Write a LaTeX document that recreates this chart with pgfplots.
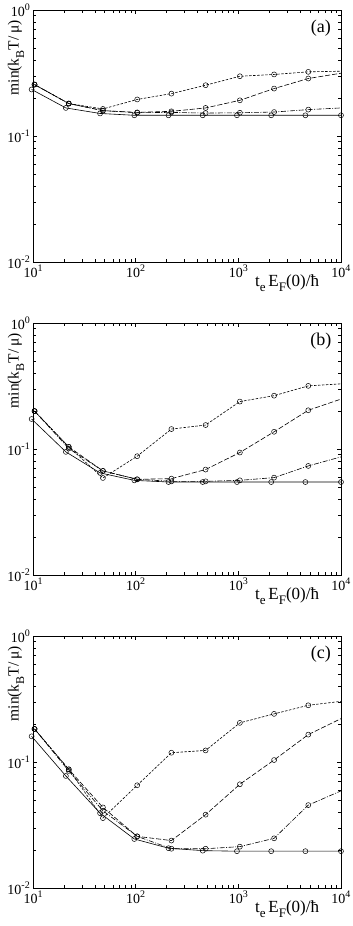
\documentclass[border=0pt]{standalone}
\usepackage{fontspec}
\setmainfont{Liberation Serif}
\usepackage{pgfplots}
\pgfplotsset{compat=1.18}
\newcommand\tlab[1]{10\raisebox{0.42em}{\fontsize{10bp}{10bp}\selectfont #1}}
\newcommand\lsub[1]{\raisebox{-0.35em}{\fontsize{13bp}{13bp}\selectfont #1}}
\newcommand\ysub[1]{\raisebox{-0.35em}{\fontsize{12bp}{12bp}\selectfont #1}}
\newcommand\beginpanel[1]{\begin{axis}[
    xmode=log, ymode=log, scale only axis, width=308bp, height=252bp,
    xmin=10, xmax=10000, ymin=0.01, ymax=1,
    xtick={10,100,1000,10000}, xticklabels={\tlab{1},\tlab{2},\tlab{3},\tlab{4}},
    ytick={0.01,0.1,1}, yticklabels={\tlab{-2},\tlab{-1},\tlab{0}},
    tick align=inside, clip=false,
    axis line style={line width=0.8bp},
    tick style={black, line width=0.6bp},
    ticklabel style={font=\fontsize{14bp}{14bp}\selectfont},
    xticklabel style={anchor=north, inner sep=0pt, yshift=-3bp},
    yticklabel style={anchor=east, inner sep=0pt, xshift=-3bp},
    xlabel={t\lsub{e}\,E\lsub{F}(0)/ħ},
    xlabel style={at={(axis description cs:0.825,0)}, anchor=base, yshift=-24bp, font=\fontsize{17bp}{17bp}\selectfont, inner sep=0pt},
    ylabel={min(k\ysub{B}T/\,μ)},
    ylabel style={at={(axis description cs:-0.028,0.81)}, anchor=south, inner sep=0pt, font=\fontsize{15.5bp}{15.5bp}\selectfont},
    #1]}
\tikzset{
  solline/.style={black, line width=0.6bp, mark=o, mark size=2.5bp, mark options={solid, line width=0.5bp}},
  sdline/.style={black, line width=0.6bp, dash pattern=on 2.5bp off 1.5bp, mark=o, mark size=2.5bp, mark options={solid, line width=0.5bp}},
  ldline/.style={black, line width=0.6bp, dash pattern=on 5bp off 2bp, mark=o, mark size=2.5bp, mark options={solid, line width=0.5bp}},
  ddline/.style={black, line width=0.6bp, dash pattern=on 5bp off 1.5bp on 1bp off 1.5bp, mark=o, mark size=2.5bp, mark options={solid, line width=0.5bp}},
}
\begin{document}
\begin{tikzpicture}
\useasboundingbox (-33bp,-916bp) rectangle (320bp,10bp);
% ---------------- (a)
\beginpanel{at={(0,0)}, anchor=north west}
\addplot[solline] coordinates {(9.7,0.234) (20.9,0.167) (45,0.151) (97,0.146) (209,0.146) (450,0.146) (970,0.146) (2090,0.146) (4500,0.146) (10000,0.146)};
\addplot[sdline, mark indices={1,2,3,4,5,6,7,8,9}] coordinates {(10.35,0.256) (22.3,0.181) (48,0.164) (103.5,0.195) (223,0.217) (480,0.253) (1035,0.298) (2230,0.308) (4800,0.323) (10000,0.327)};
\addplot[ldline, mark indices={1,2,3,4,5,6,7,8,9}] coordinates {(10.35,0.256) (22.3,0.181) (48,0.159) (103.5,0.154) (223,0.157) (480,0.167) (1035,0.192) (2230,0.238) (4800,0.286) (10000,0.315)};
\addplot[ddline, mark indices={1,2,3,4,5,6,7,8,9}] coordinates {(10.35,0.256) (22.3,0.181) (48,0.159) (103.5,0.153) (223,0.154) (480,0.152) (1035,0.153) (2230,0.155) (4800,0.162) (10000,0.167)};
\node[font=\fontsize{18bp}{18bp}\selectfont] at (rel axis cs:0.935,0.929) {(a)};
\end{axis}
% ---------------- (b)
\beginpanel{at={(0,-313bp)}, anchor=north west}
\addplot[solline] coordinates {(9.7,0.173) (20.9,0.0949) (45,0.0646) (97,0.0564) (209,0.0547) (450,0.0547) (970,0.0547) (2090,0.0547) (4500,0.0547) (10000,0.0547)};
\addplot[sdline, mark indices={1,2,3,4,5,6,7,8,9}] coordinates {(10.35,0.200) (22.3,0.104) (48,0.0589) (103.5,0.0877) (223,0.144) (480,0.155) (1035,0.238) (2230,0.265) (4800,0.317) (10000,0.329)};
\addplot[ldline, mark indices={1,2,3,4,5,6,7,8,9}] coordinates {(10.35,0.200) (22.3,0.104) (48,0.067) (103.5,0.0575) (223,0.0582) (480,0.0687) (1035,0.0938) (2230,0.137) (4800,0.203) (10000,0.249)};
\addplot[ddline, mark indices={1,2,3,4,5,6,7,8,9}] coordinates {(10.35,0.200) (22.3,0.101) (48,0.067) (103.5,0.0575) (223,0.0554) (480,0.0554) (1035,0.0564) (2230,0.0593) (4800,0.0734) (10000,0.0866)};
\node[font=\fontsize{18bp}{18bp}\selectfont] at (rel axis cs:0.935,0.929) {(b)};
\end{axis}
% ---------------- (c)
\beginpanel{at={(0,-626bp)}, anchor=north west}
\addplot[solline] coordinates {(9.7,0.160) (20.9,0.0775) (45,0.0393) (97,0.0245) (209,0.0207) (450,0.0198) (970,0.0196) (2090,0.0196) (4500,0.0196) (10000,0.0196)};
\addplot[sdline, mark indices={1,2,3,4,5,6,7,8,9}] coordinates {(10.35,0.183) (22.3,0.0875) (48,0.0359) (103.5,0.0654) (223,0.1185) (480,0.1236) (1035,0.2045) (2230,0.241) (4800,0.282) (10000,0.303)};
\addplot[ldline, mark indices={1,2,3,4,5,6,7,8,9}] coordinates {(10.35,0.183) (22.3,0.0875) (48,0.0436) (103.5,0.0257) (223,0.0238) (480,0.0382) (1035,0.0666) (2230,0.1037) (4800,0.165) (10000,0.221)};
\addplot[ddline, mark indices={1,2,3,4,5,6,7,8,9}] coordinates {(10.35,0.183) (22.3,0.085) (48,0.041) (103.5,0.0257) (223,0.0205) (480,0.0205) (1035,0.0213) (2230,0.0248) (4800,0.0455) (10000,0.059)};
\node[font=\fontsize{18bp}{18bp}\selectfont] at (rel axis cs:0.935,0.929) {(c)};
\end{axis}
\end{tikzpicture}
\end{document}
